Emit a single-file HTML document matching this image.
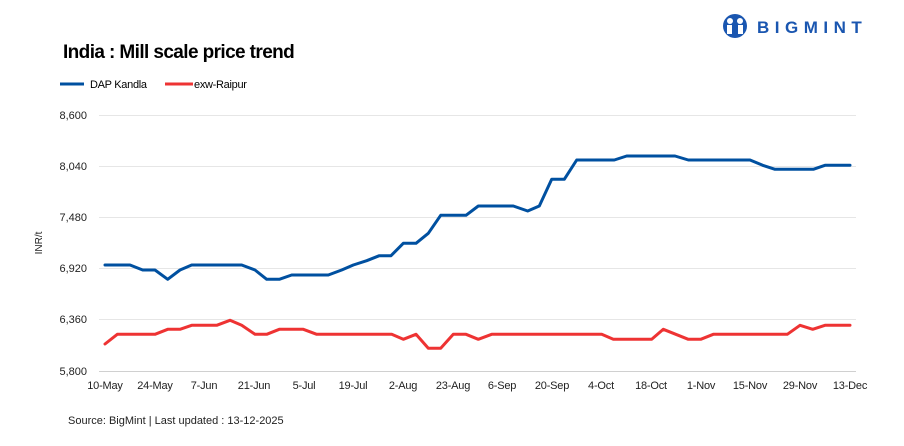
<!DOCTYPE html>
<html><head><meta charset="utf-8"><style>
body{margin:0;background:#fff;width:904px;height:441px;overflow:hidden}
text{font-family:"Liberation Sans",sans-serif}
</style></head><body>
<svg width="904" height="441" viewBox="0 0 904 441" xmlns="http://www.w3.org/2000/svg">
<text x="63" y="58" font-size="19" font-weight="bold" letter-spacing="-0.6" fill="#000">India : Mill scale price trend</text>
<line x1="60" y1="84" x2="84" y2="84" stroke="#0050a0" stroke-width="3"/>
<text x="90" y="88" font-size="11" fill="#000" letter-spacing="-0.3">DAP Kandla</text>
<line x1="165" y1="84" x2="193" y2="84" stroke="#ee3333" stroke-width="3"/>
<text x="194" y="88" font-size="11" fill="#000" letter-spacing="-0.3">exw-Raipur</text>
<g stroke="#e6e6e6" stroke-width="1">
<line x1="99" y1="115.5" x2="856" y2="115.5"/>
<line x1="99" y1="166.5" x2="856" y2="166.5"/>
<line x1="99" y1="217.5" x2="856" y2="217.5"/>
<line x1="99" y1="268.5" x2="856" y2="268.5"/>
<line x1="99" y1="319.5" x2="856" y2="319.5"/>
<line x1="99" y1="371.5" x2="856" y2="371.5" stroke="#d0d0d0"/>
</g>
<g font-size="11" fill="#222" text-anchor="end">
<text x="87" y="119">8,600</text>
<text x="87" y="170">8,040</text>
<text x="87" y="221">7,480</text>
<text x="87" y="272">6,920</text>
<text x="87" y="323">6,360</text>
<text x="87" y="375">5,800</text>
</g>
<text transform="translate(42,243) rotate(-90)" font-size="10" fill="#222" text-anchor="middle">INR/t</text>
<g font-size="11" fill="#222" text-anchor="middle" letter-spacing="-0.2">
<text x="105" y="389">10-May</text>
<text x="155" y="389">24-May</text>
<text x="204" y="389">7-Jun</text>
<text x="254" y="389">21-Jun</text>
<text x="304" y="389">5-Jul</text>
<text x="353" y="389">19-Jul</text>
<text x="403" y="389">2-Aug</text>
<text x="453" y="389">23-Aug</text>
<text x="502" y="389">6-Sep</text>
<text x="552" y="389">20-Sep</text>
<text x="601" y="389">4-Oct</text>
<text x="651" y="389">18-Oct</text>
<text x="701" y="389">1-Nov</text>
<text x="750" y="389">15-Nov</text>
<text x="800" y="389">29-Nov</text>
<text x="850" y="389">13-Dec</text>
</g>
<polyline fill="none" stroke="#0050a0" stroke-width="3" stroke-linejoin="round" stroke-linecap="round" points="105,265 130,265 142.7,270 155,270 167.7,279.3 180,270 191.7,265 241.7,265 255,270 266.7,279.3 279.3,279.3 291.7,275 328.3,275 341.7,270 353.3,265 366.7,260.7 379.3,255.7 391,255.7 403.3,243.3 416,243.3 428.3,233.3 440.7,215.3 466,215.3 478.3,206 513.3,206 527.7,211 539.3,206 551.7,179.3 564.3,179.3 576.7,160 614.3,160 626.7,156 675,156 688.3,160 750,160 762.7,165.3 775,169.3 813.3,169.3 825,165.3 850,165.3"/>
<polyline fill="none" stroke="#ee3333" stroke-width="3" stroke-linejoin="round" stroke-linecap="round" points="105,344 117.3,334.3 155,334.3 167.7,329.3 180,329.3 191.7,325.3 216.7,325.3 230,320.3 241.7,325.3 255,334.3 266.7,334.3 279.3,329.3 303.3,329.3 316.7,334.3 391.7,334.3 403.3,339.3 416,334.3 428.3,348.3 440.7,348.3 453.3,334.3 466,334.3 478.3,339.3 491.7,334.3 601.7,334.3 613.3,339.3 651.7,339.3 663.3,329.3 688.3,339.3 700.7,339.3 713.3,334.3 787.3,334.3 800,325.3 812.7,329.3 825,325.3 850,325.3"/>
<text x="68" y="424" font-size="11" fill="#222">Source: BigMint | Last updated : 13-12-2025</text>
<g fill="#1a56b0">
<circle cx="735" cy="26" r="12"/>
<circle cx="730" cy="21" r="3" fill="#fff"/>
<circle cx="740" cy="21" r="3" fill="#fff"/>
<rect x="727" y="25" width="5" height="9" fill="#fff"/>
<rect x="738" y="25" width="5" height="9" fill="#fff"/>
<text x="757" y="33" font-size="17" font-weight="bold" letter-spacing="5.5" fill="#1a56b0">BIGMINT</text>
</g>
</svg>
</body></html>
